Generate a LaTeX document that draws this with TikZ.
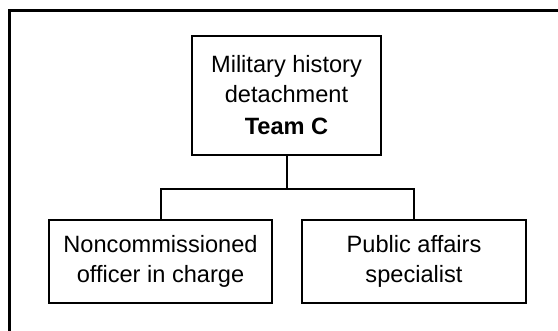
\documentclass[tikz,border=0pt]{standalone}
\usepackage{fontspec}
\setmainfont{Liberation Sans}
\begin{document}
\begin{tikzpicture}[x=1bp,y=-1bp,
  box/.style={draw=black, line width=2bp, align=center, inner sep=0pt,
    font=\fontsize{23.6bp}{29.5bp}\selectfont},
  conn/.style={draw=black, line width=2bp}]
\useasboundingbox (0,0) rectangle (558,330);
\draw[line width=3bp] (9,335) -- (9,10) -- (565,10);
\node[box, minimum width=189bp, minimum height=119bp] (top) at (286.5,95.5)
  {Military history\\detachment\\[3bp]\textbf{Team C}};
\node[box, minimum width=223bp, minimum height=83bp] (left) at (160.5,261.5)
  {Noncommissioned\\officer in charge};
\node[box, minimum width=224bp, minimum height=83bp] (right) at (414,261.5)
  {Public affairs\\specialist};
\coordinate (j) at (286.5,189);
\draw[conn] (top.south) -- (j);
\draw[conn] (j) -| (left.north);
\draw[conn] (j) -| (right.north);
\end{tikzpicture}
\end{document}
